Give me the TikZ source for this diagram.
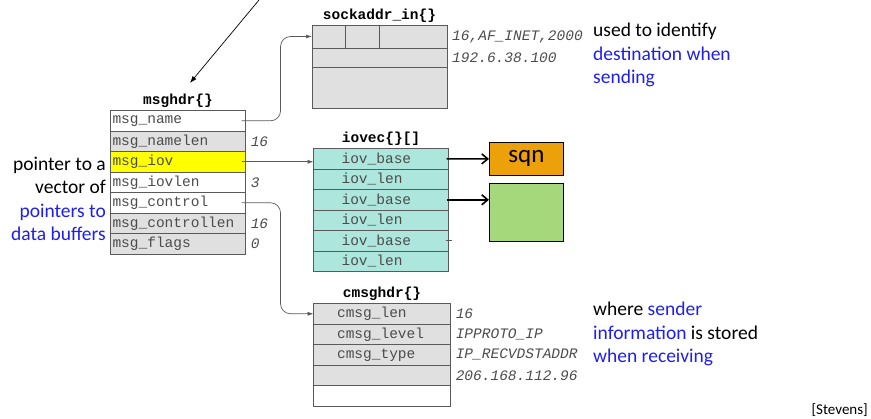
\documentclass[tikz,border=0pt]{standalone}
\usepackage{fontspec}
\setmainfont{Carlito}
\setmonofont{Liberation Mono}
\usetikzlibrary{matrix, arrows.meta, positioning}

\definecolor{noteblue}{RGB}{30,30,240}
\definecolor{cellgray}{RGB}{224,224,224}
\definecolor{cellteal}{RGB}{172,230,220}
\definecolor{cellyellow}{RGB}{255,255,0}
\definecolor{sqnorange}{RGB}{236,160,10}
\definecolor{bufgreen}{RGB}{164,216,122}
\definecolor{edge}{RGB}{90,90,90}

\tikzset{
  cell/.style = {draw=edge, line width=0.7pt, outer sep=0pt, minimum height=20.5pt,
                 inner xsep=2pt, inner ysep=0pt, align=left,
                 font=\fontsize{14.5}{16}\selectfont\ttfamily, text=black!70},
  wcell/.style = {cell, fill=white},
  gcell/.style = {cell, fill=cellgray},
  ycell/.style = {cell, fill=cellyellow},
  tcell/.style = {cell, fill=cellteal},
  tbl/.style = {matrix of nodes, nodes in empty cells, row sep=-0.7pt, inner sep=0pt, anchor=north west},
  head/.style = {font=\fontsize{14.5}{16}\selectfont\ttfamily\bfseries, inner sep=0pt},
  val/.style = {font=\fontsize{14.5}{16}\selectfont\ttfamily\itshape, text=black!70, inner sep=0pt, anchor=west},
  ptr/.style = {draw=edge, line width=0.7pt, -{Latex[length=6pt,width=4pt]}},
  fat/.style = {line width=1.6pt, -{Straight Barb[length=6pt,width=10pt]}},
  note/.style = {font=\fontsize{19.5}{23.5}\selectfont, inner sep=0pt},
}

\begin{document}
\begin{tikzpicture}[x=1pt, y=-1pt]
\useasboundingbox (0,0) rectangle (871,419);

% msghdr
\matrix (hdr) [tbl, nodes={minimum width=135pt, text width=131pt}] at (110,110) {
|[wcell]| msg\_name \\
|[gcell]| msg\_namelen \\
|[ycell]| msg\_iov \\
|[wcell]| msg\_iovlen \\
|[wcell]| msg\_control \\
|[gcell]| msg\_controllen \\
|[gcell]| msg\_flags \\
};
\node[head, above=2pt of hdr] (hdr-title) {msghdr\{\}};
\node[val] (v-namelen) at ([xshift=5pt]hdr-2-1.east) {16};
\node[val] (v-iovlen) at ([xshift=5pt]hdr-4-1.east) {3};
\node[val] (v-ctllen) at ([xshift=5pt]hdr-6-1.east) {16};
\node[val] (v-flags) at ([xshift=5pt]hdr-7-1.east) {0};

% sockaddr_in
\node[gcell, minimum width=33pt, minimum height=23pt, anchor=north west] (sa-len) at (312,25) {};
\node[gcell, minimum width=34pt, minimum height=23pt, anchor=north west] (sa-fam) at (345,25) {};
\node[gcell, minimum width=68pt, minimum height=23pt, anchor=north west] (sa-port) at (379,25) {};
\node[gcell, minimum width=135pt, minimum height=19pt, anchor=north west] (sa-addr) at (312,48) {};
\node[gcell, minimum width=135pt, minimum height=41pt, anchor=north west] (sa-zero) at (312,67) {};
\node[head, anchor=south] (sa-title) at ([yshift=2pt]sa-len.north -| sa-addr.north) {sockaddr\_in\{\}};
\node[val] (v-sa1) at ([xshift=5pt]sa-port.east) {16,AF\_INET,2000};
\node[val] (v-sa2) at ([xshift=5pt]sa-addr.east) {192.6.38.100};

% iovec
\matrix (iov) [tbl, nodes={tcell, minimum width=135pt, text width=79pt}] at (313,148) {
iov\_base \\
iov\_len \\
iov\_base \\
iov\_len \\
iov\_base \\
iov\_len \\
};
\node[head, above=2pt of iov] (iov-title) {iovec\{\}[]};

% cmsghdr
\matrix (cm) [tbl, nodes={minimum width=137pt, text width=90pt}] at (313,303) {
|[gcell]| cmsg\_len \\
|[gcell]| cmsg\_level \\
|[gcell]| cmsg\_type \\
|[gcell]| \\
|[wcell]| \\
};
\node[head, above=2pt of cm] (cm-title) {cmsghdr\{\}};
\node[val] (v-cmlen) at ([xshift=5pt]cm-1-1.east) {16};
\node[val] (v-cmlevel) at ([xshift=5pt]cm-2-1.east) {IPPROTO\_IP};
\node[val] (v-cmtype) at ([xshift=5pt]cm-3-1.east) {IP\_RECVDSTADDR};
\node[val] (v-cmaddr) at ([xshift=5pt]cm-4-1.east) {206.168.112.96};

% data buffers
\node[fill=sqnorange, draw=black, line width=0.8pt, minimum width=74pt, minimum height=33pt,
      font=\fontsize{25}{27}\selectfont, anchor=north west] (sqn) at (489,142) {sqn};
\node[fill=bufgreen, draw=black, line width=0.8pt, minimum width=74pt, minimum height=58pt,
      anchor=north west] (buf) at (489,183) {};

% pointers
\coordinate (caller) at (259,0);
\coordinate (hdr-tip) at (190,83);
\draw[line width=0.7pt, -{Latex[length=7pt,width=5pt]}] (caller) -- (hdr-tip);
\draw[ptr, rounded corners=10pt] ([xshift=-4pt]hdr-1-1.east) -- ++(39,0) |- (sa-len.west);
\draw[ptr] ([xshift=-4pt]hdr-3-1.east) -- (hdr-3-1.east -| iov-1-1.west);
\draw[ptr, rounded corners=10pt] ([xshift=-4pt]hdr-5-1.east) -- ++(39,0) |- (cm-1-1.west);
\draw[fat] ([xshift=-2pt]iov-1-1.east) -- (sqn.west);
\draw[fat] ([xshift=-2pt]iov-3-1.east) -- (iov-3-1.east -| buf.west);
\draw[draw=edge, line width=0.7pt] ([xshift=-3pt]iov-5-1.east) -- ++(6,0);

% notes
\node[note, align=right, anchor=east] (iov-note) at (106,199)
  {pointer to a\\vector of\\\textcolor{noteblue}{pointers to}\\\textcolor{noteblue}{data buffers}};
\node[note, align=left, anchor=west] (sa-note) at (593,55)
  {used to identify\\\textcolor{noteblue}{destination when}\\\textcolor{noteblue}{sending}};
\node[note, align=left, anchor=west] (cm-note) at (593,334)
  {where \textcolor{noteblue}{sender}\\\textcolor{noteblue}{information} is stored\\\textcolor{noteblue}{when receiving}};
\node[font=\fontsize{15}{17}\selectfont, inner sep=1pt, anchor=south east] (cite) at (869,418) {[Stevens]};
\end{tikzpicture}
\end{document}
